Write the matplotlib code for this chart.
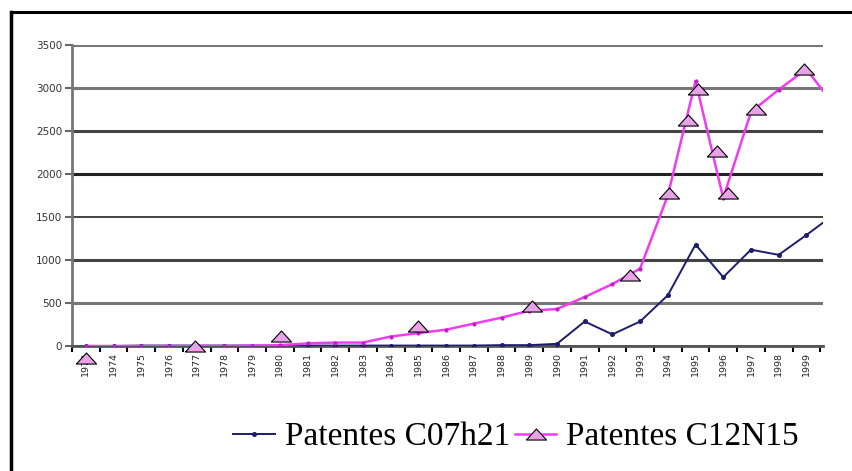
import numpy as np
import matplotlib.pyplot as plt
from matplotlib.legend_handler import HandlerTuple

# dados (o ponto de 2000 fica cortado na borda do gráfico)
years = np.arange(1973, 2001)
c07h21 = [0, 0, 5, 5, 5, 5, 5, 5, 5, 5, 5, 5, 5, 5, 5, 10, 10, 25,
          285, 135, 285, 590, 1180, 800, 1120, 1060, 1290, 1530]
c12n15 = [0, 0, 0, 0, 0, 0, 5, 10, 30, 40, 40, 110, 150, 190, 260, 330, 410, 430,
          570, 720, 900, 1750, 3080, 1720, 2720, 2980, 3220, 2800]

# triângulos marcados sobre a curva C12N15
tri_x = [1973.0, 1976.95, 1980.05, 1985.0, 1989.1, 1992.65, 1994.05, 1994.72,
         1995.1, 1995.78, 1996.17, 1997.2, 1998.9]
tri_y = [-140, 0, 115, 230, 465, 825, 1780, 2630, 2990, 2265, 1780, 2755, 3220]

tick_years = np.arange(1973, 2000)

fig = plt.figure(figsize=(8.53, 4.71), dpi=100)
ax = fig.add_axes([72/853, 1-346/471, (823-72)/853, (346-45)/471])

# moldura externa (topo e esquerda)
fig.add_artist(plt.Line2D([11/853, 1], [1-12/471, 1-12/471], color='black', lw=2.2,
                          transform=fig.transFigure))
fig.add_artist(plt.Line2D([11/853, 11/853], [0, 1-12/471], color='black', lw=2.5,
                          transform=fig.transFigure))

l1, = ax.plot(years, c07h21, color='#1c1c6b', lw=1.4, marker='o', ms=2.6,
              label='Patentes C07h21', zorder=3)
l2, = ax.plot(years, c12n15, color='#f03cf0', lw=1.8, marker='o', ms=2.0,
              mfc='#c020c0', mec='#c020c0', zorder=4)
tri = [(-1, -0.55), (1, -0.55), (0, 0.55), (-1, -0.55)]
l3, = ax.plot(tri_x, tri_y, ls='none', marker=tri, ms=14.5, mfc='#e8a2e8',
              mec='black', mew=0.8, zorder=5, clip_on=False)

ax.set_xlim(1972.5, 1999.6)
ax.set_ylim(0, 3500)
ax.set_yticks(np.arange(0, 3501, 500))
ax.set_xticks(tick_years)
ax.set_xticklabels([str(y) for y in tick_years], rotation=90, fontsize=6.8,
                   color='#222222')
ax.set_xticks(np.arange(1972.5, 2000, 1), minor=True)
ax.tick_params(axis='x', which='major', length=0, pad=4)
ax.tick_params(axis='x', which='minor', length=4, width=1.5, color='black',
               direction='out')
ax.tick_params(axis='y', length=5, width=1.5, color='#666666', labelsize=7.5,
               labelcolor='#333333', pad=2)

ax.grid(axis='y', color='#555555', lw=2)
grid_colors = ['#555555', '#777777', '#444444', '#222222', '#222222', '#444444',
               '#777777', '#777777']
grid_widths = [2, 2.2, 2.2, 1.2, 2.2, 2.2, 2.2, 2.2]
for gl, c, w in zip(ax.get_ygridlines(), grid_colors, grid_widths):
    gl.set_color(c)
    gl.set_linewidth(w)
ax.set_axisbelow(True)

for s in ['top', 'right']:
    ax.spines[s].set_visible(False)
ax.spines['left'].set_color('#777777')
ax.spines['left'].set_linewidth(2)
ax.spines['bottom'].set_color('#555555')
ax.spines['bottom'].set_linewidth(2)

fig.legend([l1, (l2, l3)], ['Patentes C07h21', 'Patentes C12N15'],
           handler_map={tuple: HandlerTuple(ndivide=1)},
           loc='center', bbox_to_anchor=(516/853, 1-437/471), ncol=2,
           frameon=False, prop={'family': 'Liberation Serif', 'size': 24},
           handlelength=1.25, handletextpad=0.3, columnspacing=0.15,
           markerscale=1.0)

fig.savefig('out.png', dpi=100)
